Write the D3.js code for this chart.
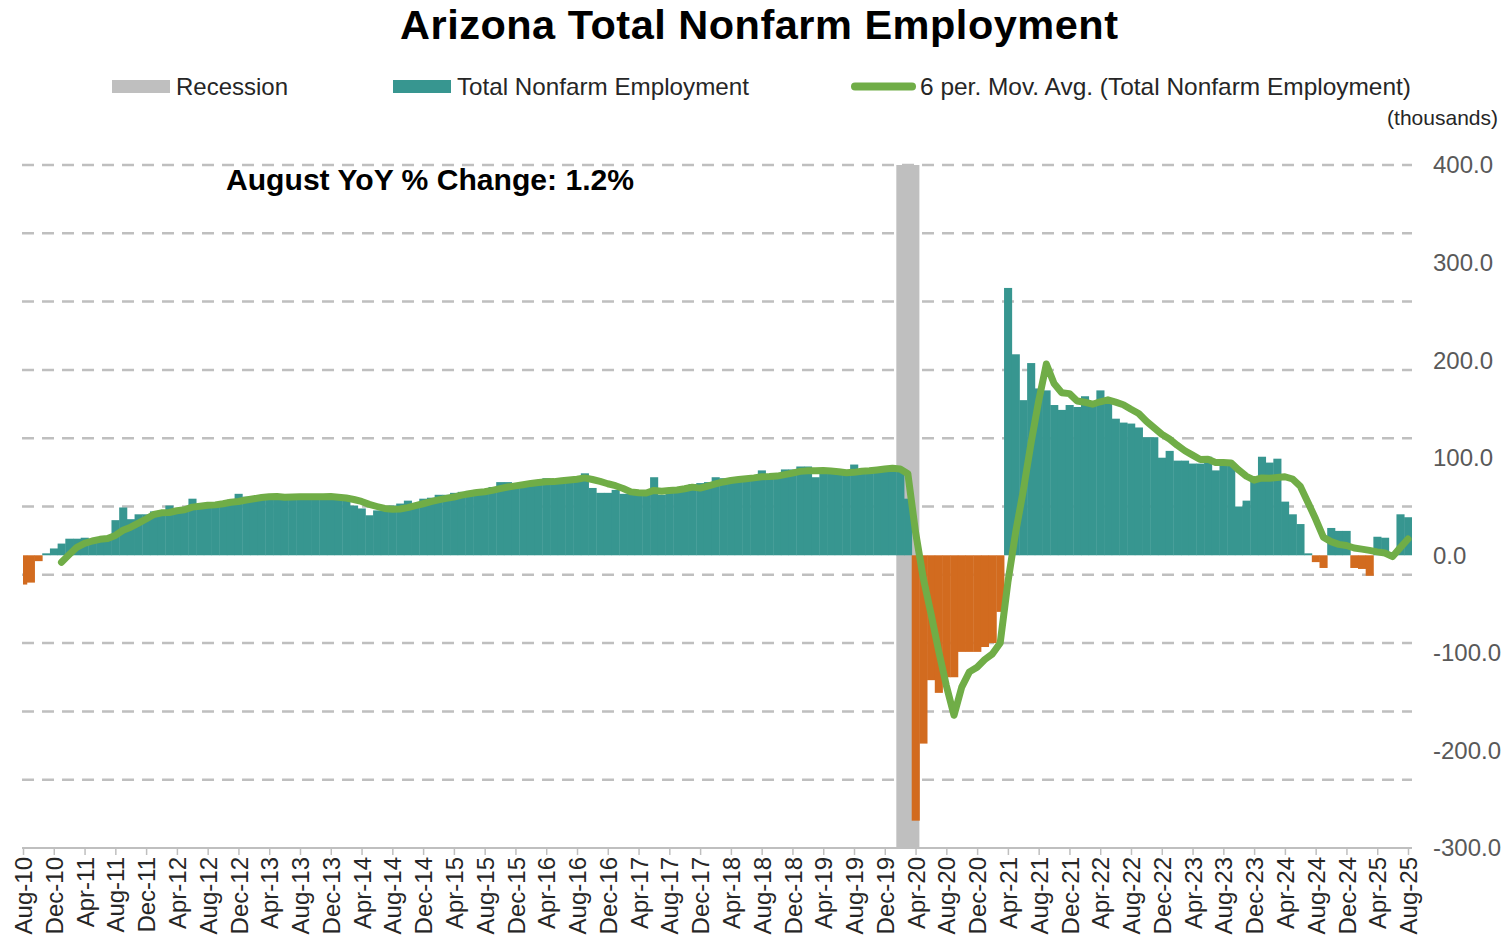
<!DOCTYPE html>
<html>
<head>
<meta charset="utf-8">
<script src="https://cdn.jsdelivr.net/npm/d3@7"></script>
<style>
  html, body { margin: 0; padding: 0; background: #ffffff; }
  svg { display: block; font-family: "Liberation Sans", Arial, sans-serif; }
</style>
</head>
<body>
<svg id="chart" width="1509" height="944"></svg>
<script>
// ---------------- DATA ----------------
const startMonth = new Date(2010, 7, 1);   // Aug-10
const endMonth = new Date(2025, 8, 1);     // exclusive -> last is Aug-25
const months = d3.timeMonth.range(startMonth, endMonth);

// Year-over-year change in Arizona total nonfarm employment (thousands), Aug-10 .. Aug-25
const nonfarmChange = [
  -30, -28, -6, 2, 7, 12, 17, 17, 18, 17, 17, 17,
  36, 49, 37, 42, 42, 45, 46, 51, 48, 48, 58, 51,
  52, 53, 55, 57, 63, 60, 60, 60, 60, 59, 58, 62,
  61, 60, 60, 59, 59, 58, 56, 51, 48, 41, 46, 46,
  51, 53, 56, 53, 58, 59, 62, 62, 64, 65, 66, 67,
  67, 70, 75, 75, 73, 74, 75, 76, 79, 76, 78, 79,
  80, 84, 69, 64, 64, 67, 63, 63, 63, 63, 80, 62,
  67, 67, 70, 73, 74, 75, 80, 79, 79, 79, 79, 80,
  87, 80, 82, 88, 88, 91, 91, 80, 84, 84, 84, 85,
  93, 87, 87, 89, 90, 89, 88, 58, -272, -193, -128, -141,
  -125, -125, -99, -99, -99, -94, -90, -58, 274, 206, 159, 197,
  171, 169, 154, 149, 154, 152, 163, 157, 169, 161, 140, 136,
  135, 131, 121, 121, 100, 107, 97, 97, 94, 94, 101, 87,
  97, 95, 50, 56, 77, 101, 95, 99, 55, 42, 32, 2,
  -7, -13, 28, 25, 25, -13, -14, -21, 19, 18, 3, 42,
  39
];

// Recession period (NBER), first and last month
const recession = [new Date(2020, 1, 1), new Date(2020, 3, 1)];

const movingAvgPeriod = 6;
const yTickValues = [400, 300, 200, 100, 0, -100, -200, -300];
const yGridValues = [400, 330, 260, 190, 120, 50, -20, -90, -160, -230];
const tickEvery = 4;

const titleText = "Arizona Total Nonfarm Employment";
const annotationText = "August YoY % Change: 1.2%";
const unitsText = "(thousands)";
const legendLabels = ["Recession", "Total Nonfarm Employment", "6 per. Mov. Avg. (Total Nonfarm Employment)"];

// ---------------- STYLE ----------------
const colTeal = "#379690";
const colOrange = "#D26B1F";
const colGreen = "#70AD47";
const colRecession = "#BFBFBF";
const colGrid = "#BFBFBF";
const colLabel = "#595959";

// ---------------- SCALES ----------------
const svg = d3.select("#chart");
const fmt = d3.timeFormat("%b-%y");
const keys = months.map(fmt);

const x = d3.scalePoint().domain(keys).range([23, 1408]);
const step = x.step();
const y = d3.scaleLinear().domain([-300, 400]).range([848, 165]);

const plotLeft = 22, plotRight = 1412;

const data = months.map((m, i) => ({ key: keys[i], date: m, v: nonfarmChange[i] }));

// moving average (trend line of the bar series)
const ma = [];
for (let i = movingAvgPeriod - 1; i < data.length; i++) {
  const win = data.slice(i - movingAvgPeriod + 1, i + 1).map(d => d.v);
  ma.push({ key: data[i].key, v: d3.mean(win) });
}

// ---------------- TITLE & LEGEND ----------------
svg.append("text")
  .attr("x", 400).attr("y", 39)
  .attr("font-size", 41.5).attr("font-weight", "bold")
  .attr("fill", "#000")
  .attr("textLength", 718).attr("lengthAdjust", "spacing")
  .text(titleText);

const leg = svg.append("g").attr("font-size", 24).attr("fill", "#262626");
leg.append("rect").attr("x", 112).attr("y", 80).attr("width", 58).attr("height", 13).attr("fill", colRecession);
leg.append("text").attr("x", 176).attr("y", 95).text(legendLabels[0]);
leg.append("rect").attr("x", 393).attr("y", 80).attr("width", 58).attr("height", 13).attr("fill", colTeal);
leg.append("text").attr("x", 457).attr("y", 95)
  .attr("textLength", 292).attr("lengthAdjust", "spacingAndGlyphs").text(legendLabels[1]);
leg.append("line").attr("x1", 855).attr("x2", 912).attr("y1", 86.5).attr("y2", 86.5)
  .attr("stroke", colGreen).attr("stroke-width", 8).attr("stroke-linecap", "round");
leg.append("text").attr("x", 920).attr("y", 95)
  .attr("textLength", 491).attr("lengthAdjust", "spacingAndGlyphs").text(legendLabels[2]);

svg.append("text")
  .attr("x", 1498).attr("y", 125)
  .attr("text-anchor", "end")
  .attr("font-size", 21).attr("fill", "#262626")
  .text(unitsText);

// ---------------- GRID ----------------
svg.append("g").selectAll("line").data(yGridValues).join("line")
  .attr("x1", plotLeft).attr("x2", plotRight)
  .attr("y1", d => y(d)).attr("y2", d => y(d))
  .attr("stroke", colGrid).attr("stroke-width", 2.5)
  .attr("stroke-dasharray", "12,8");

// ---------------- RECESSION ----------------
const r0 = fmt(recession[0]), r1 = fmt(recession[1]);
svg.append("rect")
  .attr("x", x(r0) - step / 2)
  .attr("width", x(r1) - x(r0) + step)
  .attr("y", y(400)).attr("height", y(-300) - y(400))
  .attr("fill", colRecession);

// ---------------- BARS ----------------
svg.append("defs").append("clipPath").attr("id", "plotclip")
  .append("rect").attr("x", 23).attr("y", 150).attr("width", plotRight - 23).attr("height", 720);

svg.append("g").attr("clip-path", "url(#plotclip)")
  .selectAll("rect").data(data).join("rect")
  .attr("x", d => x(d.key) - step / 2)
  .attr("width", step + 0.4)
  .attr("y", d => y(Math.max(0, d.v)))
  .attr("height", d => Math.abs(y(d.v) - y(0)))
  .attr("fill", d => d.v >= 0 ? colTeal : colOrange);

// ---------------- MOVING AVERAGE ----------------
svg.append("path")
  .datum(ma)
  .attr("fill", "none")
  .attr("stroke", colGreen)
  .attr("stroke-width", 7)
  .attr("stroke-linejoin", "round")
  .attr("stroke-linecap", "round")
  .attr("d", d3.line().x(d => x(d.key)).y(d => y(d.v)));

// ---------------- ANNOTATION ----------------
svg.append("text")
  .attr("x", 226).attr("y", 190)
  .attr("font-size", 29.5).attr("font-weight", "bold").attr("fill", "#000")
  .attr("textLength", 408).attr("lengthAdjust", "spacingAndGlyphs")
  .text(annotationText);

// ---------------- Y AXIS (right labels) ----------------
const yFmt = v => d3.format(".1f")(v).replace("\u2212", "-");
svg.append("g").selectAll("text").data(yTickValues).join("text")
  .attr("x", 1433).attr("y", d => y(d)).attr("dy", "0.35em")
  .attr("font-size", 24).attr("fill", colLabel)
  .text(yFmt);

// ---------------- X AXIS ----------------
const tickKeys = keys.filter((k, i) => i % tickEvery === 0);
const xAxis = d3.axisBottom(x).tickValues(tickKeys).tickSize(7).tickSizeOuter(0).tickPadding(0);
const gx = svg.append("g").attr("transform", `translate(0,${y(-300)})`).call(xAxis);
gx.select(".domain").attr("stroke", colGrid).attr("stroke-width", 2)
  .attr("d", `M${plotLeft},0H${plotRight}`);
gx.selectAll(".tick line").attr("stroke", colGrid).attr("stroke-width", 1.5);
gx.selectAll(".tick text")
  .attr("font-size", 24)
  .attr("font-family", "Liberation Sans, Arial, sans-serif")
  .attr("fill", "#262626")
  .attr("text-anchor", "end")
  .attr("transform", "rotate(-90)")
  .attr("x", -9).attr("y", 0).attr("dy", "0.36em");
</script>
</body>
</html>
